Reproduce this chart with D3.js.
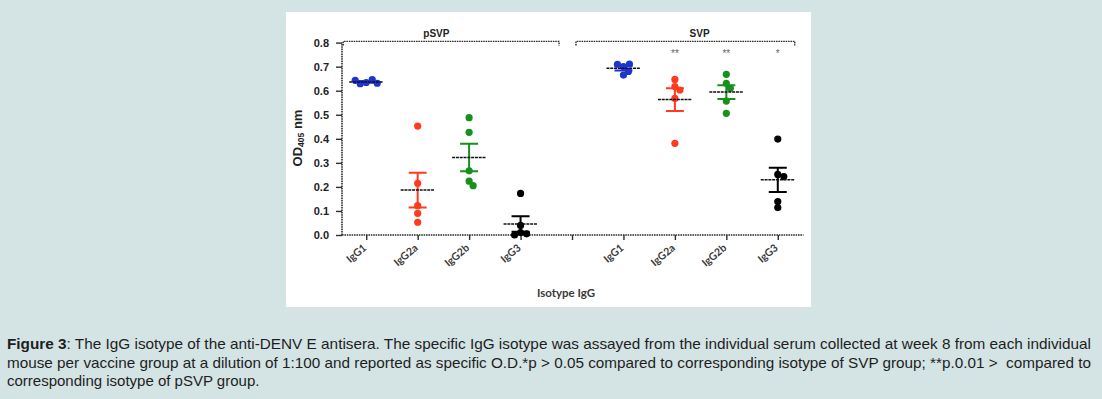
<!DOCTYPE html>
<html>
<head>
<meta charset="utf-8">
<script src="https://cdn.jsdelivr.net/npm/d3@7"></script>
<style>
  body { margin: 0; background: #d4e3e4; }
  svg { display: block; }
</style>
</head>
<body>
<svg id="chart" width="1102" height="399"></svg>
<script>
// values (OD405 per mouse)
const groupNames = ["pSVP", "SVP"];
const isotypes = ["IgG1", "IgG2a", "IgG2b", "IgG3"];
const pSVP_IgG1 = [0.634, 0.646, 0.629, 0.643, 0.631];
const pSVP_IgG2a = [0.453, 0.215, 0.122, 0.09, 0.053];
const pSVP_IgG2b = [0.488, 0.427, 0.267, 0.224, 0.205];
const pSVP_IgG3 = [0.173, 0.04, 0.01, 0.005, 0.0];
const SVP_IgG1 = [0.70, 0.711, 0.665, 0.71, 0.68];
const SVP_IgG2a = [0.647, 0.617, 0.603, 0.568, 0.381];
const SVP_IgG2b = [0.668, 0.631, 0.61, 0.557, 0.506];
const SVP_IgG3 = [0.399, 0.252, 0.243, 0.139, 0.114];
const svpStars = ["", "**", "**", "*"];
const yTicks = [0, 0.1, 0.2, 0.3, 0.4, 0.5, 0.6, 0.7, 0.8];
const captionLines = [
  "The IgG isotype of the anti-DENV E antisera. The specific IgG isotype was assayed from the individual serum collected at week 8 from each individual",
  "mouse per vaccine group at a dilution of 1:100 and reported as specific O.D.*p > 0.05 compared to corresponding isotype of SVP group; **p.0.01 >\u00a0 compared to",
  "corresponding isotype of pSVP group."
];

const isoColors = ["#1c35d0", "#ff3a1e", "#17911c", "#000000"];

const series = [
  { group: "pSVP", iso: 0, values: pSVP_IgG1 },
  { group: "pSVP", iso: 1, values: pSVP_IgG2a },
  { group: "pSVP", iso: 2, values: pSVP_IgG2b },
  { group: "pSVP", iso: 3, values: pSVP_IgG3 },
  { group: "SVP", iso: 0, values: SVP_IgG1 },
  { group: "SVP", iso: 1, values: SVP_IgG2a },
  { group: "SVP", iso: 2, values: SVP_IgG2b },
  { group: "SVP", iso: 3, values: SVP_IgG3 }
];

// nine slots on the x axis: 4 pSVP, an empty gap, 4 SVP
const slots = [];
isotypes.forEach(d => slots.push("pSVP-" + d));
slots.push("gap");
isotypes.forEach(d => slots.push("SVP-" + d));

const svg = d3.select("#chart");

svg.append("rect")
  .attr("x", 286).attr("y", 12)
  .attr("width", 525).attr("height", 295)
  .attr("fill", "#ffffff");

const x = d3.scalePoint()
  .domain(slots)
  .range([340.5, 803.5])
  .padding(0.5);

const y = d3.scaleLinear()
  .domain([0, 0.8])
  .range([235, 42.6]);

const axisColor = "#2e2e2e";

// y axis
const yAxis = svg.append("g").attr("transform", "translate(342,0)")
  .call(d3.axisLeft(y).tickValues(yTicks).tickFormat(d3.format(".1f")).tickSize(6).tickPadding(7));
yAxis.select(".domain").attr("stroke", axisColor).attr("stroke-width", 1.6).attr("stroke-dasharray", "1.6,0.8");
yAxis.selectAll(".tick line").attr("stroke", axisColor).attr("stroke-width", 1.4);
yAxis.selectAll(".tick text")
  .attr("font-family", "Liberation Sans, Arial, sans-serif")
  .attr("font-size", 11).attr("font-weight", "bold").attr("fill", "#222");
yAxis.select(".domain").attr("d", "M0," + y(0) + "V" + y(0.8));

// x axis
const xAxis = svg.append("g").attr("transform", "translate(0," + y(0) + ")")
  .call(d3.axisBottom(x).tickSize(5).tickFormat(""));
xAxis.select(".domain").attr("stroke", axisColor).attr("stroke-width", 1.6).attr("stroke-dasharray", "1.6,0.8")
  .attr("d", "M342,0H803.5");
xAxis.selectAll(".tick line").attr("stroke", axisColor).attr("stroke-width", 1.4);

// rotated isotype labels
slots.forEach(s => {
  if (s === "gap") return;
  const label = s.split("-")[1];
  svg.append("text")
    .attr("transform", "translate(" + (x(s) + 1) + "," + 249 + ") rotate(-40)")
    .attr("text-anchor", "end")
    .attr("font-family", "Lato, Liberation Sans, sans-serif")
    .attr("font-weight", "bold")
    .attr("font-size", 10.5)
    .attr("fill", "#3a3a3a")
    .text(label);
});

svg.append("text")
  .attr("x", 566).attr("y", 297)
  .attr("text-anchor", "middle")
  .attr("font-family", "Lato, Liberation Sans, sans-serif")
  .attr("font-weight", "bold")
  .attr("font-size", 11.5)
  .attr("fill", "#3a3a3a")
  .text("Isotype IgG");

// y axis title
const yTitle = svg.append("text")
  .attr("transform", "translate(302,138) rotate(-90)")
  .attr("text-anchor", "middle")
  .attr("font-family", "Liberation Sans, Arial, sans-serif")
  .attr("font-weight", "bold")
  .attr("font-size", 13)
  .attr("fill", "#222");
yTitle.append("tspan").text("OD");
yTitle.append("tspan").attr("font-size", 8.5).attr("dy", 2).text("405");
yTitle.append("tspan").attr("dy", -2).text(" nm");

// group brackets
const bracketY = y(0.805);
const brackets = [
  { name: "pSVP", x0: x("pSVP-IgG1") - 23, x1: x("gap") - 13, labelX: (x("pSVP-IgG2a") + x("pSVP-IgG2b")) / 2 - 7 },
  { name: "SVP", x0: x("gap") + 4, x1: x("SVP-IgG3") + 17, labelX: (x("SVP-IgG2a") + x("SVP-IgG2b")) / 2 - 1 }
];
brackets.forEach(b => {
  svg.append("path")
    .attr("d", "M" + b.x0 + "," + (bracketY + 4) + "V" + bracketY + "H" + b.x1 + "V" + (bracketY + 4))
    .attr("fill", "none")
    .attr("stroke", axisColor)
    .attr("stroke-width", 1.4)
    .attr("stroke-dasharray", "1.6,0.8");
  svg.append("text")
    .attr("x", b.labelX).attr("y", y(0.84) + 4)
    .attr("text-anchor", "middle")
    .attr("font-family", "Liberation Sans, Arial, sans-serif")
    .attr("font-weight", "bold")
    .attr("font-size", 10)
    .attr("fill", "#222")
    .text(b.name);
});

// significance stars over SVP columns
isotypes.forEach((iso, i) => {
  svg.append("text")
    .attr("x", x("SVP-" + iso)).attr("y", y(0.76) + 5)
    .attr("text-anchor", "middle")
    .attr("font-family", "Liberation Sans, Arial, sans-serif")
    .attr("font-size", 10)
    .attr("fill", "#666")
    .text(svpStars[i]);
});

// simple beeswarm so close values spread sideways
function swarm(values, cx, minDist) {
  const placed = [];
  values.forEach(v => {
    const py = y(v);
    let off = 0;
    for (let k = 0; k < 60; k++) {
      const cand = k === 0 ? 0 : (k % 2 ? 1 : -1) * Math.ceil(k / 2);
      const ok = placed.every(p => Math.hypot(p.x - (cx + cand), p.y - py) >= minDist);
      if (ok) { off = cand; break; }
    }
    placed.push({ x: cx + off, y: py, v: v });
  });
  return placed;
}

const r = 3.6;
series.forEach(s => {
  const key = s.group + "-" + isotypes[s.iso];
  const cx = x(key);
  const col = isoColors[s.iso];
  const mean = d3.mean(s.values);
  const sem = d3.deviation(s.values) / Math.sqrt(s.values.length);
  const g = svg.append("g");

  swarm(s.values, cx, 6).forEach(p => {
    g.append("circle").attr("cx", p.x).attr("cy", p.y).attr("r", r).attr("fill", col);
  });

  // SEM bar with caps
  g.append("path")
    .attr("d", "M" + cx + "," + y(mean + sem) + "V" + y(mean - sem)
      + "M" + (cx - 9) + "," + y(mean + sem) + "H" + (cx + 9)
      + "M" + (cx - 9) + "," + y(mean - sem) + "H" + (cx + 9))
    .attr("stroke", col).attr("stroke-width", 2).attr("fill", "none");

  // mean line
  g.append("line")
    .attr("x1", cx - 17).attr("x2", cx + 17)
    .attr("y1", y(mean)).attr("y2", y(mean))
    .attr("stroke", "#111").attr("stroke-width", 1.5).attr("stroke-dasharray", "3,0.8");
});

// caption
const cap = svg.append("g")
  .attr("font-family", "Liberation Sans, Arial, sans-serif")
  .attr("font-size", 15)
  .attr("fill", "#1e1e1e");
const l1 = cap.append("text").attr("x", 7).attr("y", 349)
  .attr("textLength", 1084).attr("lengthAdjust", "spacingAndGlyphs");
l1.append("tspan").attr("font-weight", "bold").text("Figure 3");
l1.append("tspan").text(": " + captionLines[0]);
cap.append("text").attr("x", 7).attr("y", 367.5)
  .attr("textLength", 1084).attr("lengthAdjust", "spacingAndGlyphs")
  .text(captionLines[1]);
cap.append("text").attr("x", 7).attr("y", 386).text(captionLines[2]);
</script>
</body>
</html>
